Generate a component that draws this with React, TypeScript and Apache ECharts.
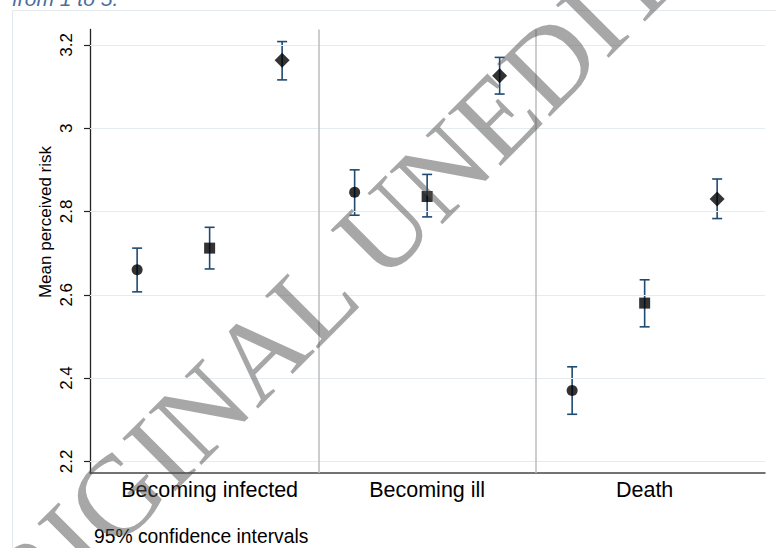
import React, { useEffect, useRef } from "react";
import * as echarts from "echarts";

const CATEGORIES = ["Becoming infected", "Becoming ill", "Death"];
const Y_TICKS = [2.2, 2.4, 2.6, 2.8, 3.0, 3.2];

// three groups (circle, square, diamond) per category
const CIRCLE_MEAN = [2.66, 2.846, 2.37];
const CIRCLE_LO = [2.607, 2.791, 2.313];
const CIRCLE_HI = [2.712, 2.9, 2.427];

const SQUARE_MEAN = [2.712, 2.836, 2.58];
const SQUARE_LO = [2.662, 2.787, 2.523];
const SQUARE_HI = [2.762, 2.889, 2.636];

const DIAMOND_MEAN = [3.163, 3.126, 2.83];
const DIAMOND_LO = [3.116, 3.082, 2.783];
const DIAMOND_HI = [3.208, 3.17, 2.878];

const FOOTNOTE = "95% confidence intervals";
const Y_TITLE = "Mean perceived risk";
const TOP_NOTE = "from 1 to 5.";
const WATERMARK = "ORIGINAL UNEDITED";

const BAR_COLOR = "#1f4a72";
const GRID_COLOR = "#e4ecef";
const SEP_COLOR = "#bdbdbd";
const FONT = '"Liberation Sans", Arial, sans-serif';

const GROUPS = [
  { name: "g1", symbol: "circle", size: 11, mean: CIRCLE_MEAN, lo: CIRCLE_LO, hi: CIRCLE_HI, offset: 1 },
  { name: "g2", symbol: "rect", size: 11, mean: SQUARE_MEAN, lo: SQUARE_LO, hi: SQUARE_HI, offset: 2 },
  { name: "g3", symbol: "diamond", size: 15, mean: DIAMOND_MEAN, lo: DIAMOND_LO, hi: DIAMOND_HI, offset: 3 },
];

const pos = (catIdx: number, offset: number) => catIdx * 3 + offset;

export default function App() {
  const ref = useRef<HTMLDivElement>(null);
  useEffect(() => {
    if (!ref.current) return;
    const chart = echarts.init(ref.current, undefined, { renderer: "svg" });

    const errData: number[][] = [];
    GROUPS.forEach((g) => {
      CATEGORIES.forEach((_, i) => {
        errData.push([pos(i, g.offset), g.lo[i], g.hi[i]]);
      });
    });

    const scatterSeries = GROUPS.map((g) => ({
      type: "scatter",
      name: g.name,
      symbol: g.symbol,
      symbolSize: g.size,
      itemStyle: { color: "#000" },
      z: 5,
      data: CATEGORIES.map((_, i) => [pos(i, g.offset), g.mean[i]]),
    }));

    const option: any = {
      animation: false,
      backgroundColor: "#fff",
      grid: { left: 90, right: 11, top: 29.5, bottom: 75, containLabel: false },
      xAxis: {
        type: "value",
        min: 0.35,
        max: 9.66,
        axisLine: { show: true, lineStyle: { color: "#444", width: 1.5 } },
        axisTick: { show: false },
        splitLine: { show: false },
        axisLabel: {
          customValues: CATEGORIES.map((_, i) => pos(i, 2)),
          formatter: (v: number) => {
            const idx = Math.round((v - 2) / 3);
            return CATEGORIES[idx] ?? "";
          },
          color: "#000",
          fontFamily: FONT,
          fontSize: 21.5,
          margin: 6,
        },
      },
      yAxis: {
        type: "value",
        min: 2.172,
        max: 3.237,
        axisLine: { show: true, lineStyle: { color: "#222", width: 1.3 } },
        axisTick: { show: true, length: 6, customValues: Y_TICKS, lineStyle: { color: "#222", width: 1.2 } },
        splitLine: { show: false },
        axisLabel: {
          customValues: Y_TICKS,
          rotate: 90,
          margin: 15,
          color: "#000",
          fontFamily: FONT,
          fontSize: 17,
          formatter: (v: number) => String(parseFloat(v.toFixed(1))),
        },
      },
      series: [
        {
          type: "line",
          data: [],
          silent: true,
          markLine: {
            silent: true,
            symbol: "none",
            label: { show: false },
            lineStyle: { color: GRID_COLOR, width: 1.2, type: "solid" },
            data: Y_TICKS.map((t) => ({ yAxis: t })),
          },
          z: 1,
        },
        {
          type: "line",
          data: [],
          silent: true,
          markLine: {
            silent: true,
            symbol: "none",
            label: { show: false },
            lineStyle: { color: SEP_COLOR, width: 1.5, type: "solid" },
            data: [{ xAxis: 3.5 }, { xAxis: 6.5 }],
          },
          z: 2,
        },
        {
          type: "custom",
          z: 3,
          data: errData,
          renderItem: (_params: any, api: any) => {
            const x = api.value(0);
            const lo = api.coord([x, api.value(1)]);
            const hi = api.coord([x, api.value(2)]);
            const hw = 5;
            const style = { stroke: BAR_COLOR, lineWidth: 1.6, fill: "none" };
            return {
              type: "group",
              children: [
                { type: "line", shape: { x1: lo[0], y1: lo[1], x2: hi[0], y2: hi[1] }, style },
                { type: "line", shape: { x1: lo[0] - hw, y1: lo[1], x2: lo[0] + hw, y2: lo[1] }, style },
                { type: "line", shape: { x1: hi[0] - hw, y1: hi[1], x2: hi[0] + hw, y2: hi[1] }, style },
              ],
            };
          },
        },
        ...scatterSeries,
      ],
      graphic: [
        {
          type: "rect",
          shape: { x: 12.5, y: 10.5, width: 900, height: 700 },
          style: { fill: "none", stroke: "#e2eaee", lineWidth: 1 },
          z: 0,
          silent: true,
        },
        {
          type: "text",
          x: 12,
          y: 9,
          style: {
            text: TOP_NOTE,
            font: 'italic 21px "Liberation Sans", Arial, sans-serif',
            fill: "#4a6e9c",
            align: "left",
            verticalAlign: "bottom",
          },
        },
        {
          type: "text",
          x: 45,
          y: 222,
          rotation: Math.PI / 2,
          style: {
            text: Y_TITLE,
            font: '17px "Liberation Sans", Arial, sans-serif',
            fill: "#000",
            align: "center",
            verticalAlign: "middle",
          },
        },
        {
          type: "text",
          x: 94,
          y: 536,
          style: {
            text: FOOTNOTE,
            font: '19.3px "Liberation Sans", Arial, sans-serif',
            fill: "#000",
            align: "left",
            verticalAlign: "middle",
          },
        },
        {
          type: "text",
          x: 355,
          y: 257,
          rotation: Math.PI / 4,
          z: 100,
          silent: true,
          style: {
            text: WATERMARK,
            font: '114px "Liberation Serif", "Times New Roman", serif',
            fill: "rgba(80,80,80,0.5)",
            align: "center",
            verticalAlign: "middle",
          },
        },
      ],
    };

    chart.setOption(option);
    return () => chart.dispose();
  }, []);

  return (
    <div
      ref={ref}
      style={{ position: "fixed", left: 0, top: 0, width: 776, height: 548 }}
    />
  );
}
